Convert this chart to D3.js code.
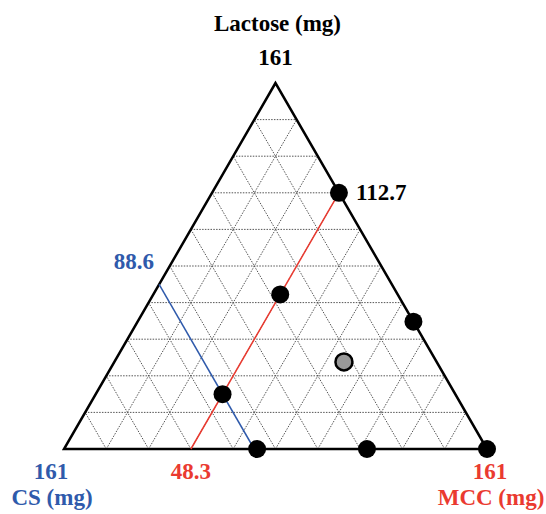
<!DOCTYPE html>
<html>
<head>
<meta charset="utf-8">
<script src="https://cdn.jsdelivr.net/npm/d3@7"></script>
<style>
  html, body { margin: 0; padding: 0; background: #fff; }
  svg { display: block; }
  text { font-family: "Liberation Serif", "Times New Roman", serif; font-weight: bold; }
</style>
</head>
<body>
<svg id="chart" width="546" height="514"></svg>
<script>
// Mixture total (mg) and grid divisions
const total = 161;
const divisions = 10;

// Design points (mg): lactose and MCC; CS is the remainder to 161
const designLactose = [112.7, 68.0, 24.1, 0, 56.0, 0, 0];
const designMCC     = [48.3, 48.3, 48.3, 73.5, 105.0, 115.3, 161];

// Check point (grey marker)
const checkLactose = [38.3];
const checkMCC     = [87.4];

// Constraint lines
const mccLimit = 48.3;     // MCC = 48.3 mg
const csLimit = 88.6;      // CS = 88.6 mg
const lactoseLimit = 112.7;

const blue = "#2f5aab";
const red = "#ea3a30";

const svg = d3.select("#chart");

// Lactose maps to height; MCC (plus half of lactose) maps along the base
const y = d3.scaleLinear().domain([0, total]).range([449, 83]);
const xBase = d3.scaleLinear().domain([0, total]).range([64, 487]);
const pos = (lac, mcc) => [xBase(mcc + lac / 2), y(lac)];

const line = d3.line();

// Dotted grid in the three directions
const steps = d3.range(1, divisions).map(i => i * total / divisions);
const grid = svg.append("g")
  .attr("fill", "none")
  .attr("stroke", "#555")
  .attr("stroke-width", 1)
  .attr("stroke-dasharray", "1.5,1.3");
steps.forEach(v => {
  // constant lactose (horizontal)
  grid.append("path").attr("d", line([pos(v, 0), pos(v, total - v)]));
  // constant MCC (parallel to left edge)
  grid.append("path").attr("d", line([pos(0, v), pos(total - v, v)]));
  // constant CS (parallel to right edge)
  grid.append("path").attr("d", line([pos(0, total - v), pos(total - v, 0)]));
});

// Triangle outline
svg.append("path")
  .attr("d", line([pos(total, 0), pos(0, 0), pos(0, total)]) + "Z")
  .attr("fill", "none")
  .attr("stroke", "#000")
  .attr("stroke-width", 2.5)
  .attr("stroke-linejoin", "miter");

// Constraint lines
svg.append("path")
  .attr("d", line([pos(0, mccLimit), pos(total - mccLimit, mccLimit)]))
  .attr("stroke", red).attr("stroke-width", 1.5).attr("fill", "none");
svg.append("path")
  .attr("d", line([pos(total - csLimit, 0), pos(0, total - csLimit)]))
  .attr("stroke", blue).attr("stroke-width", 1.5).attr("fill", "none");

// Design points
svg.append("g").selectAll("circle")
  .data(designLactose.map((l, i) => pos(l, designMCC[i])))
  .join("circle")
  .attr("cx", d => d[0]).attr("cy", d => d[1])
  .attr("r", 9).attr("fill", "#000");

// Check point
svg.append("g").selectAll("circle")
  .data(checkLactose.map((l, i) => pos(l, checkMCC[i])))
  .join("circle")
  .attr("cx", d => d[0]).attr("cy", d => d[1])
  .attr("r", 8.5).attr("fill", "#999").attr("stroke", "#000").attr("stroke-width", 2.5);

// Labels
const fs = 23;
const label = (txt, x, yy, color, anchor = "middle") =>
  svg.append("text").attr("x", x).attr("y", yy).attr("text-anchor", anchor)
    .attr("fill", color).attr("font-size", fs).text(txt);

const apexTop = pos(total, 0), apexLeft = pos(0, 0), apexRight = pos(0, total);
label("Lactose (mg)", apexTop[0] + 2, 31, "#000");
label(String(total), apexTop[0], 65, "#000");

const lp = pos(lactoseLimit, total - lactoseLimit);
label(String(lactoseLimit), lp[0] + 17, lp[1] + 7, "#000", "start");

const cp = pos(total - csLimit, 0);
label(String(csLimit), cp[0] - 5, cp[1] - 15, blue, "end");

label(String(total), apexLeft[0] - 13, 479, blue);
label(String(mccLimit), xBase(mccLimit), 479, red);
label(String(total), apexRight[0] + 3, 479, red);
label("CS (mg)", 52, 505, blue);
label("MCC (mg)", 491, 505, red);
</script>
</body>
</html>
